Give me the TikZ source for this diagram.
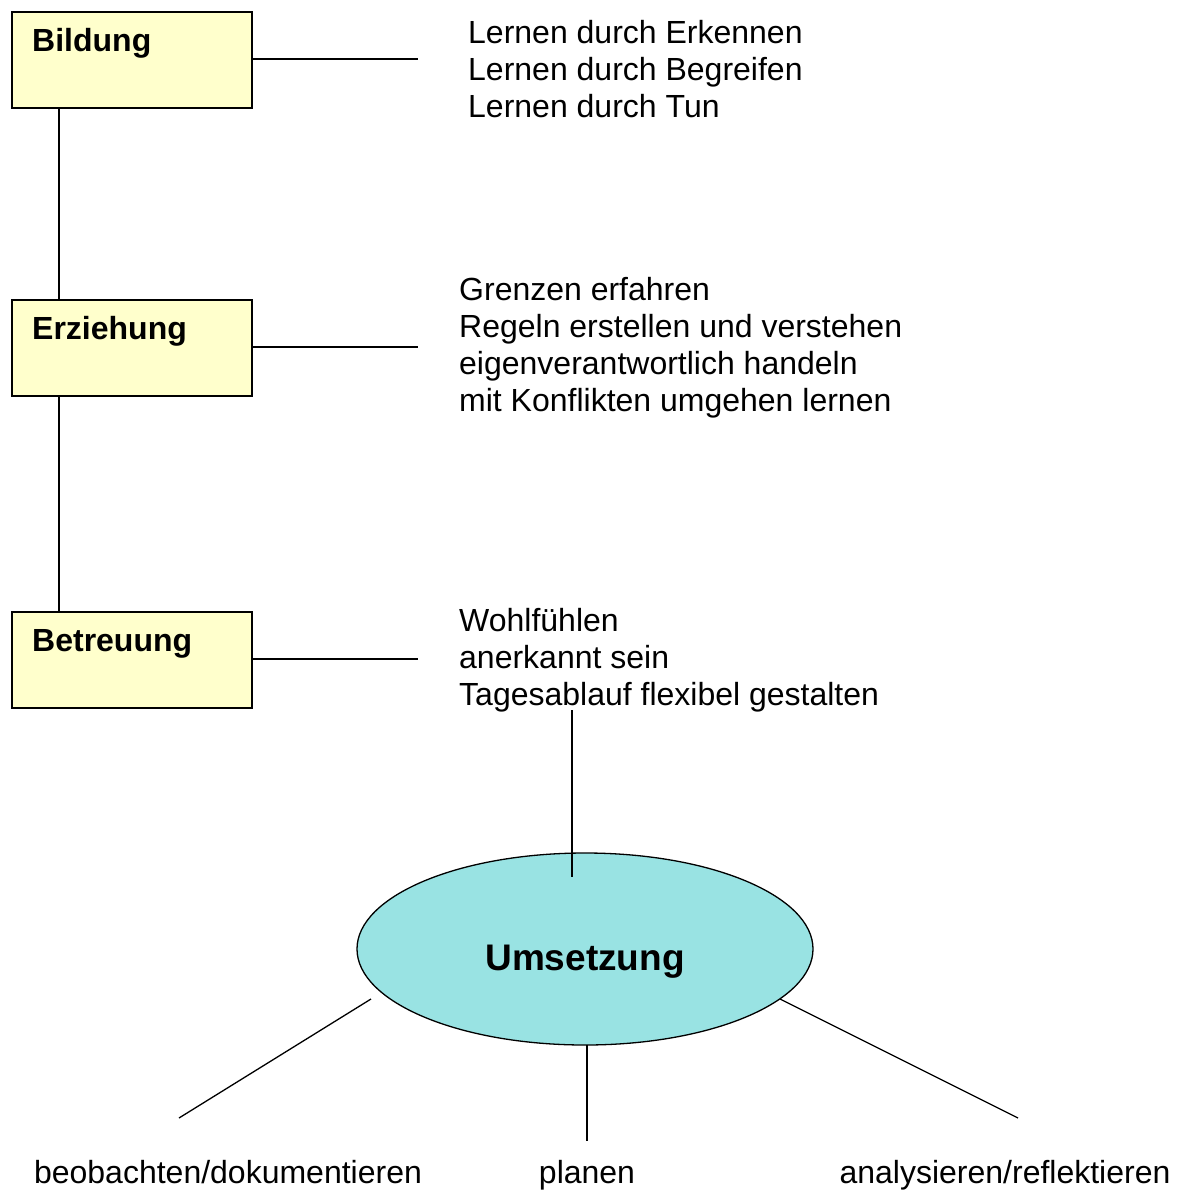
\documentclass[tikz,border=0pt]{standalone}
\usepackage{fontspec}
\setmainfont{Liberation Sans}
\usetikzlibrary{shapes.geometric}
\definecolor{boxfill}{HTML}{FFFFCC}
\definecolor{ellfill}{HTML}{99E3E3}
\begin{document}
\begin{tikzpicture}[x=1pt,y=-1pt,
  box/.style={draw,line width=1.6pt,fill=boxfill,minimum width=240pt,minimum height=96pt,inner sep=0pt,anchor=north west},
  boxlabel/.style={font=\fontsize{32}{37}\selectfont\bfseries,anchor=base west,inner sep=0pt},
  list/.style={font=\fontsize{32}{37}\selectfont,align=left,anchor=north west,inner sep=0pt},
  bottom/.style={font=\fontsize{32}{37}\selectfont,anchor=base,inner sep=0pt},
  conn/.style={line width=1.3pt}]
\useasboundingbox (0,0) rectangle (1182,1192);
% boxes
\node[box] (bildung) at (11,11) {};
\node[box] (erziehung) at (11,299) {};
\node[box] (betreuung) at (11,611) {};
\node[boxlabel] (bildungT) at (32,51) {Bildung};
\node[boxlabel] (erziehungT) at (32,339) {Erziehung};
\node[boxlabel] (betreuungT) at (32,651) {Betreuung};
% vertical connectors
\coordinate (v1a) at ([xshift=48pt]bildung.south west);
\draw[conn] (v1a) -- (v1a |- erziehung.north);
\coordinate (v2a) at ([xshift=48pt]erziehung.south west);
\draw[conn] (v2a) -- (v2a |- betreuung.north);
% horizontal lines
\coordinate (h1) at (418,59);
\coordinate (h2) at (418,347);
\coordinate (h3) at (418,659);
\draw[conn] (h1 -| bildung.east) -- (h1);
\draw[conn] (h2 -| erziehung.east) -- (h2);
\draw[conn] (h3 -| betreuung.east) -- (h3);
% lists
\node[list] (l1) at (468,20) {Lernen durch Erkennen\\Lernen durch Begreifen\\Lernen durch Tun};
\node[list] (l2) at (459,277) {Grenzen erfahren\\Regeln erstellen und verstehen\\eigenverantwortlich handeln\\mit Konflikten umgehen lernen};
\node[list] (l3) at (459,608) {Wohlf\"uhlen\\anerkannt sein\\Tagesablauf flexibel gestalten};
% ellipse
\node[ellipse,draw,line width=1.3pt,fill=ellfill,minimum width=456pt,minimum height=192pt,inner sep=0pt] (ums) at (585,949) {};
\node[font=\fontsize{37}{42}\selectfont\bfseries,anchor=base,inner sep=0pt] (umsT) at (585,970) {Umsetzung};
\coordinate (top1) at (572,710);
\coordinate (top2) at (572,877);
\draw[conn] (top1) -- (top2);
% bottom
\node[bottom] (b1) at (228,1183) {beobachten/dokumentieren};
\node[bottom] (b2) at (587,1183) {planen};
\node[bottom] (b3) at (1005,1183) {analysieren/reflektieren};
\coordinate (e1) at (371,999);
\coordinate (e1b) at (179,1118);
\coordinate (e2a) at (587,1045);
\coordinate (e2b) at (587,1141);
\coordinate (e3) at (780,999);
\coordinate (e3b) at (1018,1118);
\draw[conn] (e1) -- (e1b);
\draw[conn] (e2a) -- (e2b);
\draw[conn] (e3) -- (e3b);
\end{tikzpicture}
\end{document}
